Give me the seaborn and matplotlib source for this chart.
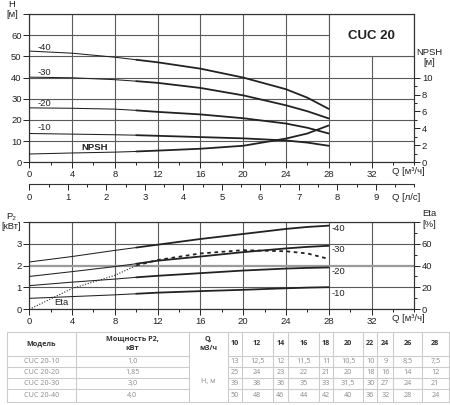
import numpy as np
import seaborn as sns
import matplotlib.pyplot as plt
from matplotlib.patches import Rectangle
from matplotlib.ticker import MultipleLocator, FixedLocator

Q_CURVE = [0, 4, 8, 10, 12, 16, 20, 24, 26, 28]
Q_SPLIT = 10  # thin line before, thick (working range) after

# head H [m]
H_10 = [13.6, 13.3, 13.0, 12.8, 12.5, 11.9, 11.3, 10.3, 9.3, 7.8]
H_20 = [25.7, 25.5, 25.1, 24.5, 23.8, 22.6, 20.8, 18.3, 16.3, 13.6]
H_30 = [40.2, 39.9, 39.0, 38.3, 37.5, 35.1, 31.6, 26.9, 24.1, 20.7]
H_40 = [52.5, 51.5, 49.6, 48.4, 47.2, 44.2, 40.0, 34.5, 30.5, 25.2]
NPSH = [0.98, 1.1, 1.2, 1.28, 1.38, 1.6, 1.95, 2.8, 3.4, 4.35]

# power P2 [kW]
P_10 = [0.50, 0.58, 0.66, 0.71, 0.76, 0.83, 0.89, 0.96, 0.99, 1.01]
P_20 = [1.08, 1.24, 1.38, 1.46, 1.53, 1.65, 1.77, 1.86, 1.89, 1.91]
P_30 = [1.50, 1.72, 1.95, 2.08, 2.22, 2.41, 2.61, 2.78, 2.85, 2.90]
P_40 = [2.16, 2.41, 2.69, 2.82, 2.95, 3.21, 3.44, 3.67, 3.76, 3.82]
ETA = [0, 19, 31, 40, 45, 51, 54, 53, 51, 46]

STAGES = ["-10", "-20", "-30", "-40"]

# table
TABLE_Q = [10, 12, 14, 16, 18, 20, 22, 24, 26, 28]
MODELS = ["CUC 20-10", "CUC 20-20", "CUC 20-30", "CUC 20-40"]
POWER = ["1,0", "1,85", "3,0", "4,0"]
TABLE_H = [
    [13, 12.5, 12, 11.5, 11, 10.5, 10, 9, 8.5, 7.5],
    [25, 24, 23, 22, 21, 20, 18, 16, 14, 12],
    [39, 38, 36, 35, 33, 31.5, 30, 27, 24, 21],
    [50, 48, 46, 44, 42, 40, 36, 32, 28, 24],
]

sns.set_style("ticks")
plt.rcParams['font.family'] = ['Liberation Sans', 'DejaVu Sans']

INK = '#222222'
GRID = '#5a5a5a'
FS = 6.8
THIN, THICK = 0.75, 1.3

fig = plt.figure(figsize=(4.5, 4.05), dpi=100)
L, W = 29.3 / 450, 385 / 450
ax_h = fig.add_axes([L, 1 - 162.3 / 405, W, 148.3 / 405])
ax_p = fig.add_axes([L, 1 - 309.3 / 405, W, 87.6 / 405])

i0 = Q_CURVE.index(Q_SPLIT)


def curve(ax, y):
    sns.lineplot(x=Q_CURVE[:i0 + 1], y=y[:i0 + 1], ax=ax, color=INK, lw=THIN,
                 estimator=None, sort=False, zorder=3)
    sns.lineplot(x=Q_CURVE[i0:], y=y[i0:], ax=ax, color=INK, lw=THICK,
                 estimator=None, sort=False, zorder=3)


def style_ticks(ax):
    ax.tick_params(which='both', direction='out', colors=INK, labelsize=FS,
                   length=4, width=0.7, pad=1.5)
    ax.tick_params(which='minor', length=2.5)
    for s in ax.spines.values():
        s.set_color('#333333')
        s.set_linewidth(0.8)
    ax.set_xlabel('')
    ax.set_ylabel('')


def style_axes(ax):
    ax.set_xlim(0, 36)
    ax.set_xticks(range(0, 33, 4))
    ax.xaxis.set_minor_locator(MultipleLocator(2))
    ax.set_axisbelow(True)
    ax.grid(True, which='major', color=GRID, lw=0.8)
    style_ticks(ax)


# ---------------- head chart ----------------
style_axes(ax_h)
ax_h.set_ylim(0, 70)
ax_h.set_yticks(range(0, 71, 10))
ax_h.set_yticklabels([str(v) for v in range(0, 61, 10)] + [''])
ax_h.add_patch(Rectangle((28, 50), 8, 20, facecolor='white', edgecolor=GRID,
                         lw=0.8, zorder=1))
for h in (H_10, H_20, H_30, H_40):
    curve(ax_h, h)
ax_n = ax_h.twinx()
ax_n.set_ylim(0, 17.5)
curve(ax_n, NPSH)
ax_n.set_yticks(range(0, 11, 2))
ax_n.yaxis.set_minor_locator(FixedLocator(range(1, 10, 2)))
ax_n.grid(False)
style_ticks(ax_n)

for lab, (x, y) in zip(STAGES, [(0.8, 16.3), (0.8, 27.7), (0.8, 42.6), (0.8, 54.4)]):
    ax_h.text(x, y, lab, fontsize=FS, color=INK, ha='left', va='center')
ax_h.text(4.9, 6.9, 'NPSH', fontsize=FS, fontweight='bold', color=INK, va='center')
ax_h.text(32, 59.8, 'CUC 20', fontsize=9.5, fontweight='bold', color=INK,
          ha='center', va='center')
ax_h.text(-0.045, 1.03, 'H\n[м]', transform=ax_h.transAxes, fontsize=FS,
          color=INK, ha='center', va='center', linespacing=1.05)
ax_h.text(1.04, 0.705, 'NPSH\n[м]', transform=ax_h.transAxes, fontsize=FS,
          color=INK, ha='center', va='center', linespacing=1.1)
ax_h.text(33.9, -0.06, 'Q [м³/ч]', transform=ax_h.get_xaxis_transform(),
          fontsize=FS, color=INK, ha='left', va='center')

sec = ax_h.secondary_xaxis(-0.146, functions=(lambda q: q / 3.6, lambda v: v * 3.6))
sec.set_xticks(range(0, 10))
sec.xaxis.set_minor_locator(MultipleLocator(0.5))
sec.tick_params(which='both', direction='out', colors=INK, labelsize=FS,
                length=4, width=0.7, pad=2.5)
sec.tick_params(which='minor', length=2.5)
sec.spines['bottom'].set_color('#333333')
sec.spines['bottom'].set_linewidth(0.8)
ax_h.text(33.9, -0.234, 'Q [л/с]', transform=ax_h.get_xaxis_transform(),
          fontsize=FS, color=INK, ha='left', va='center')

# ---------------- power chart ----------------
style_axes(ax_p)
ax_p.set_ylim(0, 4)
ax_p.set_yticks(range(0, 5))
ax_p.set_yticklabels(['0', '1', '2', '3', ''])
ax_p.get_ygridlines()[2].set(color='#9a9a9a', lw=1.6)
for p in (P_10, P_20, P_30, P_40):
    curve(ax_p, p)
ax_e = ax_p.twinx()
ax_e.set_ylim(0, 80)
sns.lineplot(x=Q_CURVE[:i0 + 1], y=ETA[:i0 + 1], ax=ax_e, color=INK, lw=0.8,
             ls=(0, (1, 1.5)), estimator=None, sort=False)
sns.lineplot(x=Q_CURVE[i0:], y=ETA[i0:], ax=ax_e, color=INK, lw=1.3,
             ls=(0, (2, 2)), estimator=None, sort=False)
ax_e.set_yticks(range(0, 81, 20))
ax_e.set_yticklabels(['0', '20', '40', '60', ''])
ax_e.yaxis.set_minor_locator(FixedLocator(range(10, 80, 20)))
ax_e.grid(False)
style_ticks(ax_e)

for lab, y in zip(STAGES, [0.73, 1.72, 2.75, 3.67]):
    ax_p.text(28.3, y, lab, fontsize=FS, color=INK, ha='left', va='center')
ax_p.text(3.0, 0.32, 'Eta', fontsize=FS, color=INK, ha='center', va='center')
ax_p.text(-0.047, 1.0, 'P₂\n[кВт]', transform=ax_p.transAxes, fontsize=FS,
          color=INK, ha='center', va='center', linespacing=1.2)
ax_p.text(1.04, 1.03, 'Eta\n[%]', transform=ax_p.transAxes, fontsize=FS,
          color=INK, ha='center', va='center', linespacing=1.2)
ax_p.text(33.9, -0.103, 'Q [м³/ч]', transform=ax_p.get_xaxis_transform(),
          fontsize=FS, color=INK, ha='left', va='center')

# ---------------- table ----------------
ax_t = fig.add_axes([0, 0, 1, 80 / 405])
ax_t.set_xlim(0, 450)
ax_t.set_ylim(405, 325)
ax_t.axis('off')

col_x = [7, 75.5, 189, 227.7, 241.7, 272.7, 288.3, 319, 333.3, 363.3,
         377.3, 393.3, 421.7, 449]
row_y = [332, 355.5, 366.7, 377.9, 389.1, 401.5]
LINE = '#cccccc'
TFONT = ['Open Sans', 'DejaVu Sans']
for x in col_x:
    ax_t.plot([x, x], [row_y[0], row_y[-1]], color=LINE, lw=0.8)
for k, y in enumerate(row_y):
    if 0 < k < len(row_y) - 1:
        ax_t.plot([col_x[0], col_x[2]], [y, y], color=LINE, lw=0.8)
        ax_t.plot([col_x[3], col_x[-1]], [y, y], color=LINE, lw=0.8)
    else:
        ax_t.plot([col_x[0], col_x[-1]], [y, y], color=LINE, lw=0.8)


def cx(i):
    return (col_x[i] + col_x[i + 1]) / 2


hy = (row_y[0] + row_y[1]) / 2
hdr = dict(fontsize=5.2, fontweight='bold', color='#333333', ha='center',
           va='center', family=TFONT)
body = dict(fontsize=5.2, color='#8a8a8a', ha='center', va='center', family=TFONT)
ax_t.text(cx(0), hy, 'Модель', **hdr)
ax_t.text(cx(1), hy, 'Мощность P2,\nкВт', linespacing=1.5, **hdr)
ax_t.text(cx(2), hy, 'Q,\nм3/ч', linespacing=1.5, **hdr)
for j, q in enumerate(TABLE_Q):
    ax_t.text(cx(3 + j), hy, str(q), **hdr)


def fmt(v):
    return f"{v:g}".replace('.', ',')


for r, (m, pw, hs) in enumerate(zip(MODELS, POWER, TABLE_H)):
    ry = (row_y[r + 1] + row_y[r + 2]) / 2
    ax_t.text(cx(0), ry, m, **body)
    ax_t.text(cx(1), ry, pw, **body)
    for j, h in enumerate(hs):
        ax_t.text(cx(3 + j), ry, fmt(h), **body)
ax_t.text(cx(2), 382, 'Н, м', **body)

fig.savefig("out.png", dpi=100)
